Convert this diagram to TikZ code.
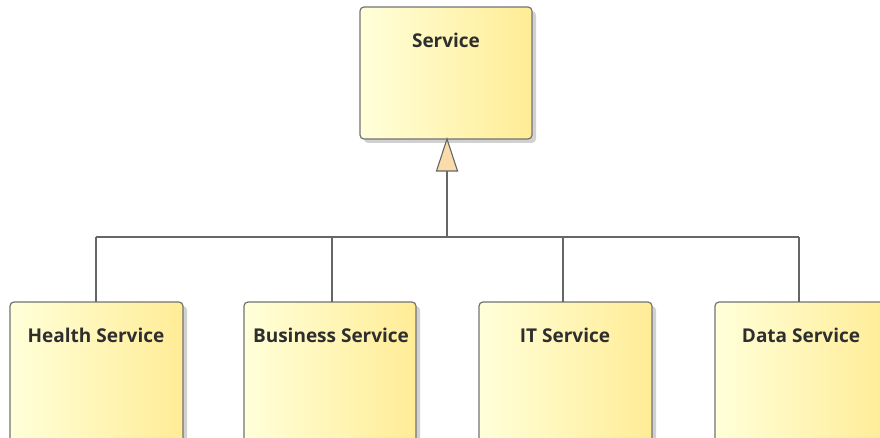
\documentclass[tikz,border=0pt]{standalone}
\usepackage{fontspec}
\setmainfont{Open Sans}
\begin{document}
\begin{tikzpicture}[x=1pt,y=-1pt,
  box/.style={rounded corners=4pt, draw=black!55, line width=1.2pt, left color=yellow!15!white, right color={rgb,255:red,255;green,236;blue,150}, shading angle=90},
  shadowbox/.style={rounded corners=4pt, fill=black!18, draw=none},
  lbl/.style={font=\bfseries\fontsize{19}{22}\selectfont, text=black!82, anchor=center},
  conn/.style={draw=black!60, line width=1.1pt},
  gen/.style={draw=black!60, line width=1.1pt, fill={rgb,255:red,250;green,220;blue,170}}]
\useasboundingbox (0,0) rectangle (880,438);
\clip (0,0) rectangle (880,438);
\fill[white] (0,0) rectangle (880,438);
% shadows
\foreach \a/\b/\c/\d in {360/7/532/139, 10/302/183/445, 244/302/416/445, 479/302/652/445, 715/302/888/445}{
  \fill[shadowbox] (\a+4,\b+4) rectangle (\c+4,\d+4);
}
% boxes
\shade[box] (360,7) rectangle (532,139);
\shade[box] (10,302) rectangle (183,445);
\shade[box] (244,302) rectangle (416,445);
\shade[box] (479,302) rectangle (652,445);
\shade[box] (715,302) rectangle (888,445);
\node[lbl] (service) at (446,40) {Service};
\node[lbl] (health) at (96,335) {Health Service};
\node[lbl] (business) at (331,335) {Business Service};
\node[lbl] (it) at (565,335) {IT Service};
\node[lbl] (data) at (801,335) {Data Service};
% anchors
\coordinate (stop) at (447,139);
\coordinate (tribase) at (447,171);
\coordinate (junc) at (447,237);
\coordinate (h) at (96,302);
\coordinate (b) at (332,302);
\coordinate (i) at (563,302);
\coordinate (d) at (799,302);
\draw[conn] (96,237) -- (799,237);
\draw[conn] (junc) -- (tribase);
\foreach \p in {h,b,i,d}{ \draw[conn] (\p) -- (\p |- junc); }
\draw[gen] (stop) -- (436.5,171) -- (457.5,171) -- cycle;
\end{tikzpicture}
\end{document}
